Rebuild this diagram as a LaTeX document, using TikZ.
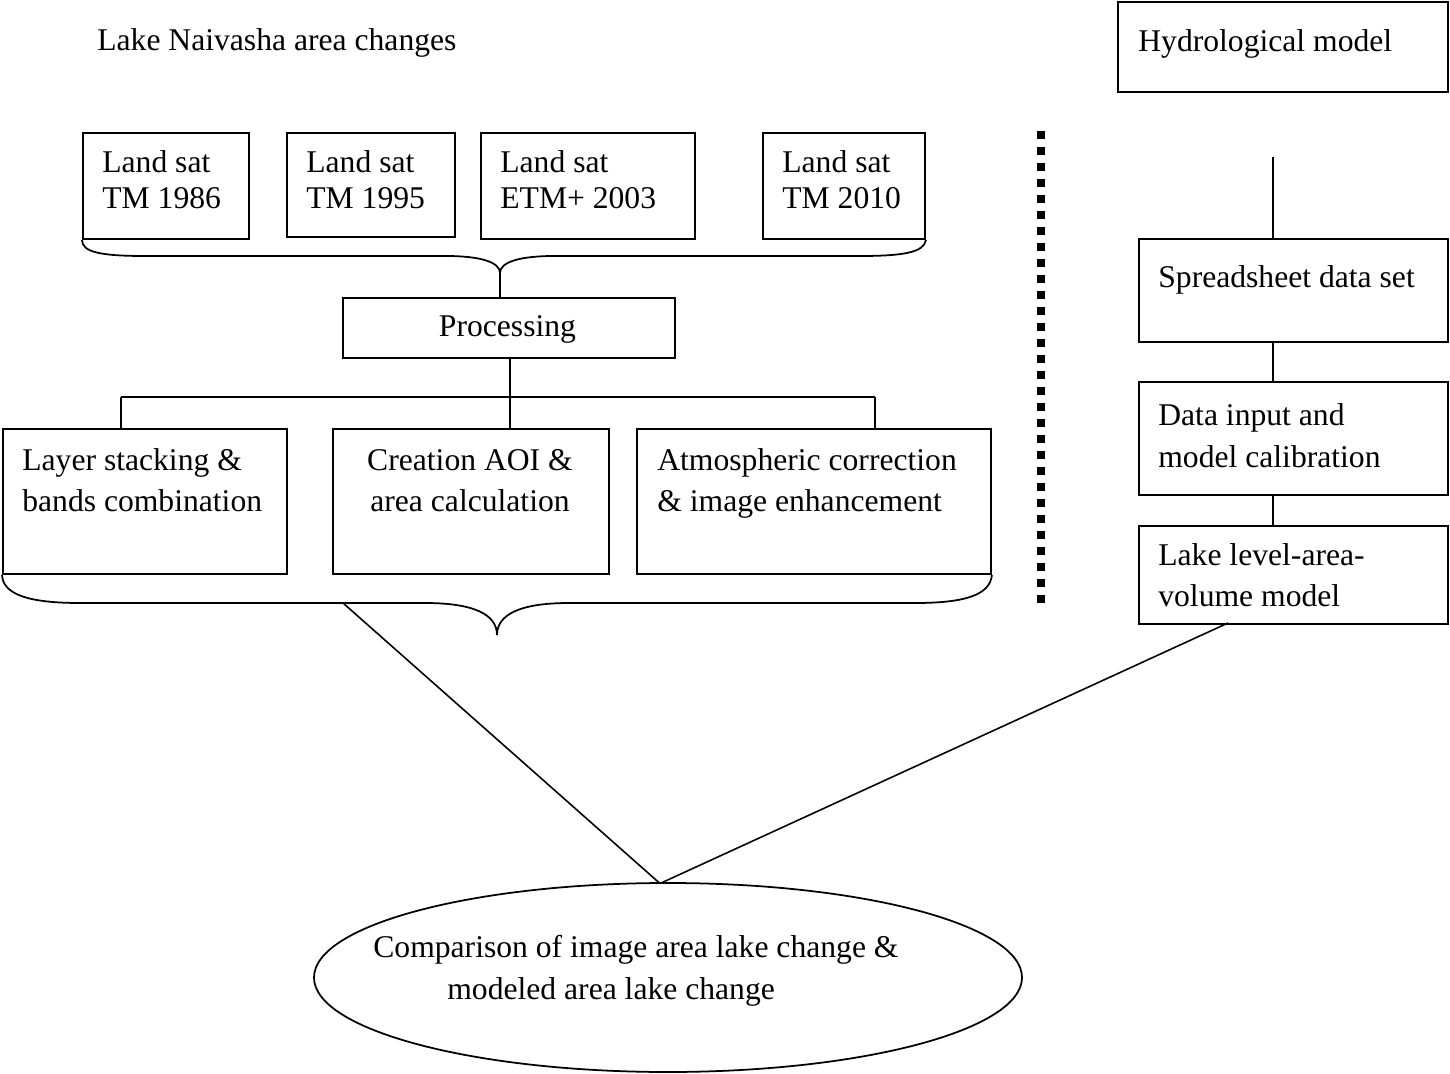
\documentclass[tikz,border=0pt]{standalone}
\usepackage{fontspec}
\setmainfont{Liberation Serif}
\usetikzlibrary{shapes.geometric}
\newcommand{\boxat}[5]{\node[box, anchor=north west, minimum width={(#4-#2)*0.02cm}, minimum height={(#5-#3)*0.02cm}] (#1) at (#2,#3) {};}
\begin{document}
\begin{tikzpicture}[x=0.02cm, y=-0.02cm,
  box/.style={draw, line width=1.1pt, inner sep=0pt, rectangle},
  txt/.style={inner sep=0pt, font=\fontsize{18}{21}\selectfont},
  conn/.style={line width=0.9pt},
  brace/.style={line width=1.0pt},
  dotline/.style={line width=0.16cm, dash pattern=on 0.16cm off 0.16cm}]
\useasboundingbox (0,0) rectangle (1450,1074);

% title
\node[txt, anchor=base west] (title) at (97,51) {Lake Naivasha area changes};

% top row boxes
\boxat{b1}{82}{132}{248}{238}
\boxat{b2}{286}{132}{454}{236}
\boxat{b3}{480}{132}{694}{238}
\boxat{b4}{762}{132}{924}{238}
\node[txt, anchor=base west] (b1a) at (102,172.7) {Land sat};
\node[txt, anchor=base west] (b1b) at (102,209) {TM 1986};
\node[txt, anchor=base west] (b2a) at (306,172.7) {Land sat};
\node[txt, anchor=base west] (b2b) at (306,209) {TM 1995};
\node[txt, anchor=base west] (b3a) at (500,172.7) {Land sat};
\node[txt, anchor=base west] (b3b) at (500,209) {ETM+ 2003};
\node[txt, anchor=base west] (b4a) at (782,172.7) {Land sat};
\node[txt, anchor=base west] (b4b) at (782,209) {TM 2010};

% upper brace
\coordinate (tipA) at (500,273);
\draw[brace] (b1.south west) .. controls (82,252) and (100,256) .. (145,256) -- (446,256)
  .. controls (480,256) and (500,262) .. (tipA)
  .. controls (500,262) and (520,256) .. (554,256) -- (860,256)
  .. controls (905,256) and (924,252) .. (b4.south east);

% processing
\boxat{proc}{342}{297}{674}{357}
\node[txt, anchor=base] (proct) at (507.5,336.7) {Processing};
\draw[conn] (tipA) -- (tipA |- proc.north);

% junction bar
\coordinate (ja) at (121,397);
\coordinate (jb) at (510,397);
\coordinate (jc) at (875,397);
\draw[conn] (jb |- proc.south) -- (jb);
\draw[conn] (ja) -- (jc);

% middle boxes
\boxat{bA}{2}{428}{286}{573}
\boxat{bB}{332}{428}{608}{573}
\boxat{bC}{636}{428}{990}{573}
\draw[conn] (ja) -- (ja |- bA.north);
\draw[conn] (jb) -- (jb |- bB.north);
\draw[conn] (jc) -- (jc |- bC.north);
\node[txt, anchor=base west] (bAa) at (22,470) {Layer stacking \&};
\node[txt, anchor=base west] (bAb) at (22,511) {bands combination};
\node[txt, anchor=base] (bBa) at (470,470) {Creation AOI \&};
\node[txt, anchor=base] (bBb) at (470,511) {area calculation};
\node[txt, anchor=base west] (bCa) at (657,470) {Atmospheric correction};
\node[txt, anchor=base west] (bCb) at (657,511) {\& image enhancement};

% lower brace
\coordinate (tipB) at (497,635);
\coordinate (bl) at (343,603);
\draw[brace] (bA.south west) .. controls (3,595) and (30,603) .. (80,603) -- (425,603)
  .. controls (475,603) and (497,615) .. (tipB)
  .. controls (497,615) and (519,603) .. (569,603) -- (915,603)
  .. controls (965,603) and (990,595) .. (bC.south east);

% dotted separator
\coordinate (d1) at (1040.5,131);
\coordinate (d2) at (1040.5,604);
\draw[dotline] (d1) -- (d2);

% right column
\boxat{hyd}{1117}{1}{1447}{91}
\node[txt, anchor=base west] (hydt) at (1138,52) {Hydrological model};
\coordinate (hl) at (1273,157);
\boxat{spr}{1138}{238}{1447}{341}
\node[txt, anchor=base west] (sprt) at (1158,288) {Spreadsheet data set};
\boxat{dat}{1138}{381}{1447}{494}
\node[txt, anchor=base west] (data) at (1158,425) {Data input and};
\node[txt, anchor=base west] (datb) at (1158,467) {model calibration};
\boxat{lak}{1138}{525}{1447}{623}
\node[txt, anchor=base west] (laka) at (1158,565) {Lake level-area-};
\node[txt, anchor=base west] (lakb) at (1158,606) {volume model};
\draw[conn] (hl) -- (hl |- spr.north);
\draw[conn] (hl |- spr.south) -- (hl |- dat.north);
\draw[conn] (hl |- dat.south) -- (hl |- lak.north);

% ellipse
\node[draw, ellipse, line width=1.0pt, minimum width=708*0.02cm, minimum height=189*0.02cm, inner sep=0pt] (cmp) at (668,977.5) {};
\node[txt, anchor=base west] (cmpa) at (373,957) {Comparison of image area lake change \&};
\node[txt, anchor=base west] (cmpb) at (447,999) {modeled area lake change};
\coordinate (meet) at (660,883.5);
\coordinate (lk) at (1228,623);
\draw[conn] (bl) -- (meet);
\draw[conn] (lk) -- (meet);
\end{tikzpicture}
\end{document}
